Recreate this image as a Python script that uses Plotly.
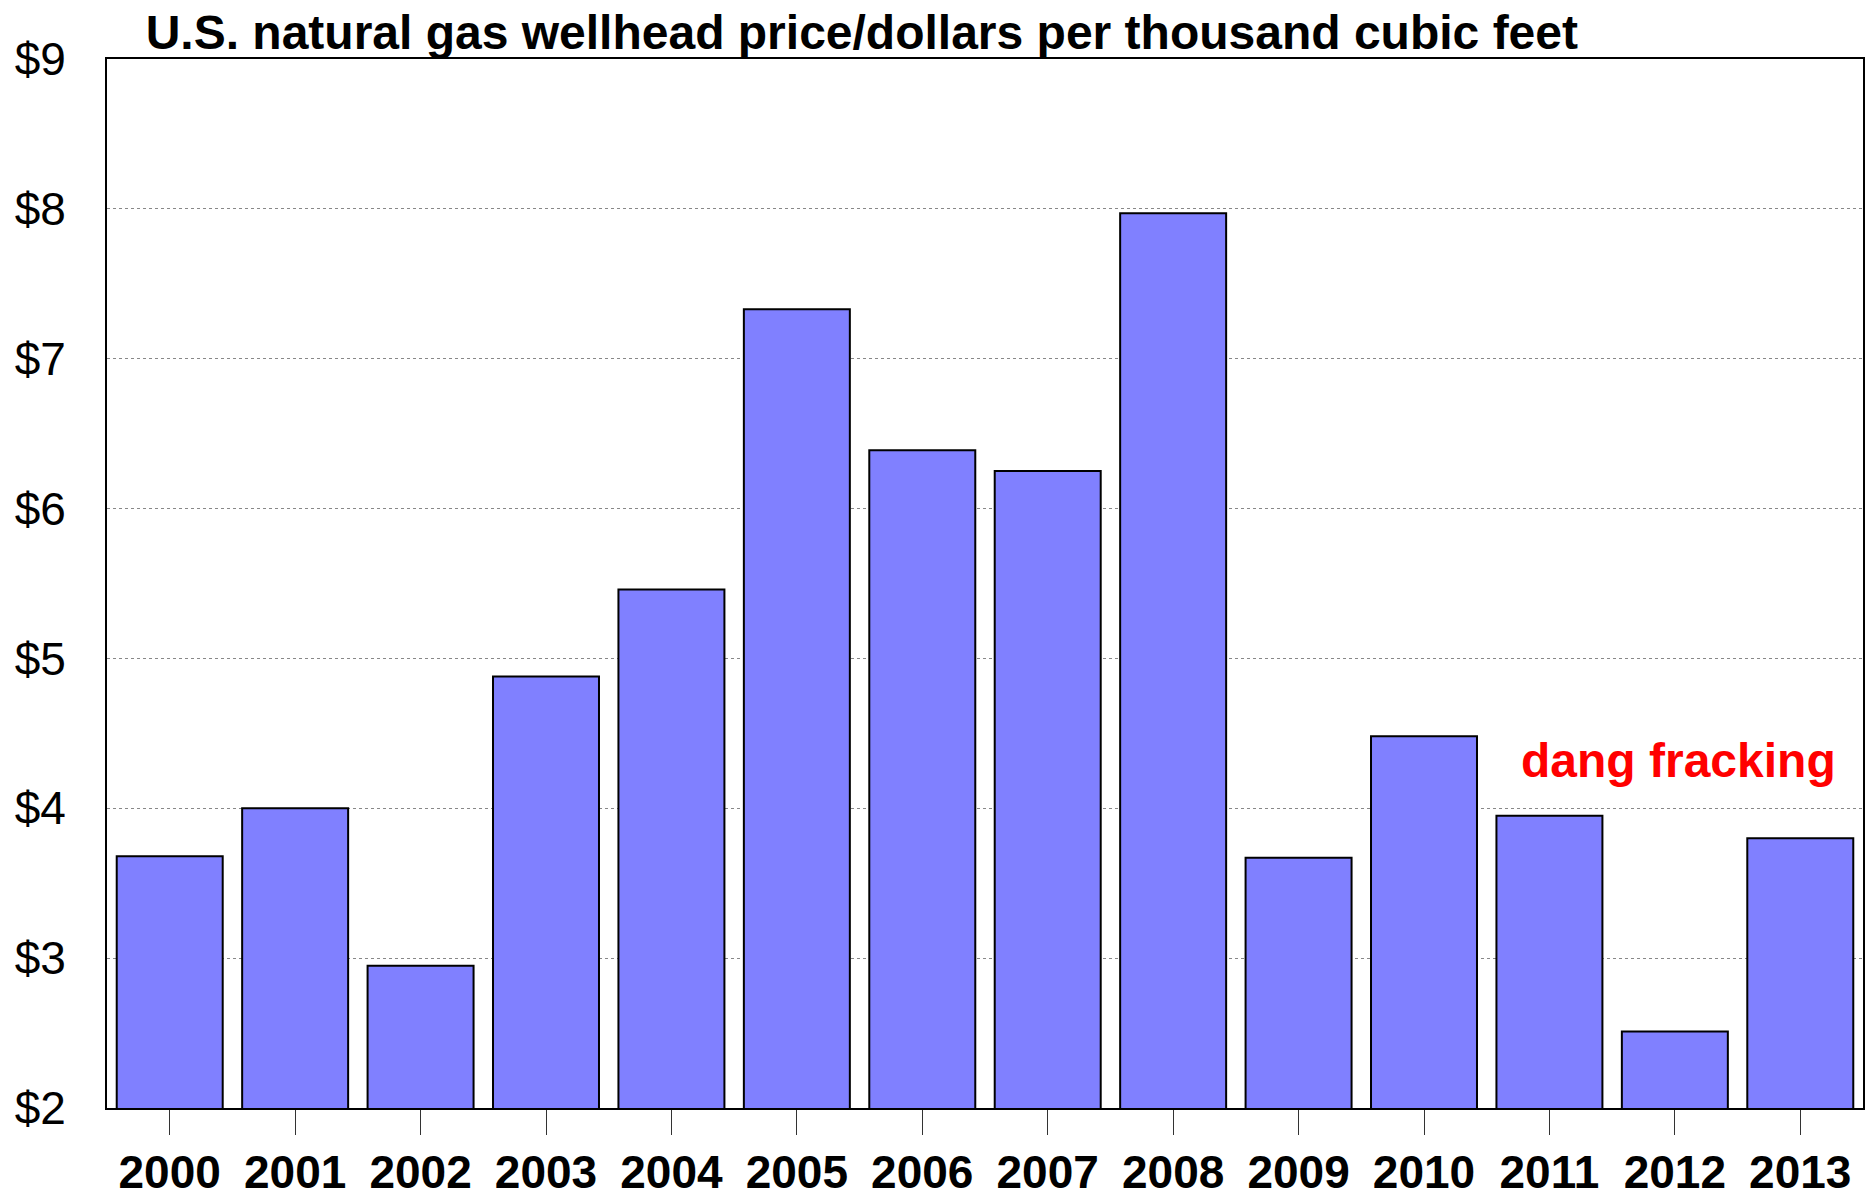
import plotly.graph_objects as go

YEARS = ["2000", "2001", "2002", "2003", "2004", "2005", "2006",
         "2007", "2008", "2009", "2010", "2011", "2012", "2013"]
PRICES = [3.68, 4.00, 2.95, 4.88, 5.46, 7.33, 6.39,
          6.25, 7.97, 3.67, 4.48, 3.95, 2.51, 3.80]
Y_TICKS = [2, 3, 4, 5, 6, 7, 8, 9]
Y_LABELS = ["$2", "$3", "$4", "$5", "$6", "$7", "$8", "$9"]
TITLE = "U.S. natural gas wellhead price/dollars per thousand cubic feet"
NOTE = "dang fracking"

FONT = "Arial, Liberation Sans, sans-serif"
BAR_COLOR = "#8080FF"

fig = go.Figure()
fig.add_trace(go.Bar(x=YEARS, y=PRICES,
                     marker=dict(color=BAR_COLOR, line=dict(color="black", width=2)),
                     base=0))

fig.add_annotation(x=12.03, y=4.32, xref="x", yref="y", text="<b>" + NOTE + "</b>",
                   showarrow=False, font=dict(family=FONT, size=48, color="#FF0000"))

fig.update_layout(
    width=1873, height=1198,
    margin=dict(l=107, r=10, t=59, b=90, autoexpand=False),
    plot_bgcolor="white", paper_bgcolor="white",
    bargap=0.155,
    showlegend=False,
    title=dict(text="<b>" + TITLE + "</b>", xref="paper", x=0.022, xanchor="left",
               yref="container", y=0.973, yanchor="middle",
               font=dict(family=FONT, size=48, color="black")),
    font=dict(family=FONT, color="black"),
)
fig.update_xaxes(showline=True, linecolor="black", linewidth=2, mirror=True,
                 ticks="outside", ticklen=25, tickwidth=1, tickcolor="#333",
                 ticklabelstandoff=-2,
                 tickfont=dict(family=FONT, size=46, color="black", weight="bold"))
fig.update_yaxes(range=[2, 9], tickvals=Y_TICKS, ticktext=Y_LABELS,
                 showline=True, linecolor="black", linewidth=2, mirror=True,
                 showgrid=True, gridcolor="#888", gridwidth=1, griddash="dot",
                 ticks="", ticklabelstandoff=30,
                 tickfont=dict(family=FONT, size=46, color="black"))

# drop the browser's default body margin so the figure sits at the page corner
fig.write_html("out.html", config={"displayModeBar": False},
               post_script="document.body.style.margin='0';")
